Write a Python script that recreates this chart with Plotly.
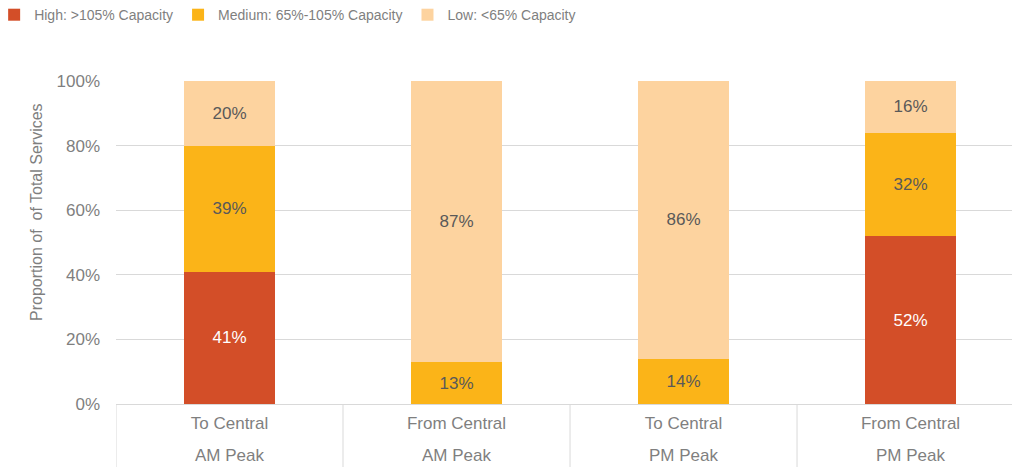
import plotly.graph_objects as go

categories = ["To Central", "From Central", "To Central", "From Central"]
periods = ["AM Peak", "AM Peak", "PM Peak", "PM Peak"]
high = [41, 0, 0, 52]
medium = [39, 13, 14, 32]
low = [20, 87, 86, 16]

series_names = ["High: >105% Capacity", "Medium: 65%-105% Capacity", "Low: <65% Capacity"]
colors = ["#D34E28", "#FBB418", "#FDD39F"]
label_colors = ["#FFFFFF", "#595959", "#595959"]

FONT = "Arial"
x_idx = list(range(len(categories)))

fig = go.Figure()
for name, vals, col, lcol in zip(series_names, [high, medium, low], colors, label_colors):
    fig.add_trace(go.Bar(
        x=x_idx, y=vals, name=name, marker=dict(color=col, line=dict(width=0)),
        width=0.4,
        text=[f"{v}%" if v else "" for v in vals],
        textposition="inside", insidetextanchor="middle", textangle=0,
        constraintext="none",
        textfont=dict(family=FONT, size=17, color=lcol),
        hoverinfo="skip",
    ))

fig.update_layout(
    barmode="stack",
    width=1012, height=467,
    margin=dict(l=116, r=0, t=81, b=63, autoexpand=False),
    paper_bgcolor="white", plot_bgcolor="white",
    font=dict(family=FONT, color="#7F7F7F"),
    legend=dict(orientation="h", x=-0.136, xanchor="left", y=1.204, yanchor="middle",
                font=dict(family=FONT, size=14, color="#7F7F7F"),
                traceorder="normal", itemwidth=30),
    showlegend=True,
)

fig.update_xaxes(
    type="linear", range=[-0.5, 3.447], automargin=False,
    tickmode="array", tickvals=x_idx, ticktext=categories,
    showgrid=False, zeroline=False,
    showline=True, linecolor="#D9D9D9", linewidth=1,
    ticks="", tickfont=dict(family=FONT, size=17, color="#7F7F7F"),
    ticklabelstandoff=4,
)
fig.update_yaxes(
    range=[0, 100], dtick=20, ticksuffix="%", automargin=False,
    showgrid=True, gridcolor="#D9D9D9", gridwidth=1,
    zeroline=False, showline=False, ticks="",
    tickfont=dict(family=FONT, size=17, color="#7F7F7F"),
    ticklabelstandoff=15,
)

# category divider lines (between categories) extending below the axis
for b in [-0.5, 0.5, 1.5, 2.5]:
    fig.add_shape(type="line", xref="x", yref="paper", x0=b, x1=b, y0=0, y1=-63/323,
                  line=dict(color="#D9D9D9", width=1), layer="above")

# second row of category labels
for xi, p in zip(x_idx, periods):
    fig.add_annotation(x=xi, xref="x", y=-(455 - 404) / 323, yref="paper",
                       text=p, showarrow=False, yanchor="middle",
                       font=dict(family=FONT, size=17, color="#7F7F7F"))

fig.add_annotation(x=-(116 - 36) / 896, xref="paper", y=(404 - 212) / 323, yref="paper",
                   text="Proportion of\u00a0 of Total Services", textangle=-90,
                   showarrow=False, xanchor="center", yanchor="middle",
                   font=dict(family=FONT, size=16, color="#7F7F7F"))

fig.write_html("out.html")
